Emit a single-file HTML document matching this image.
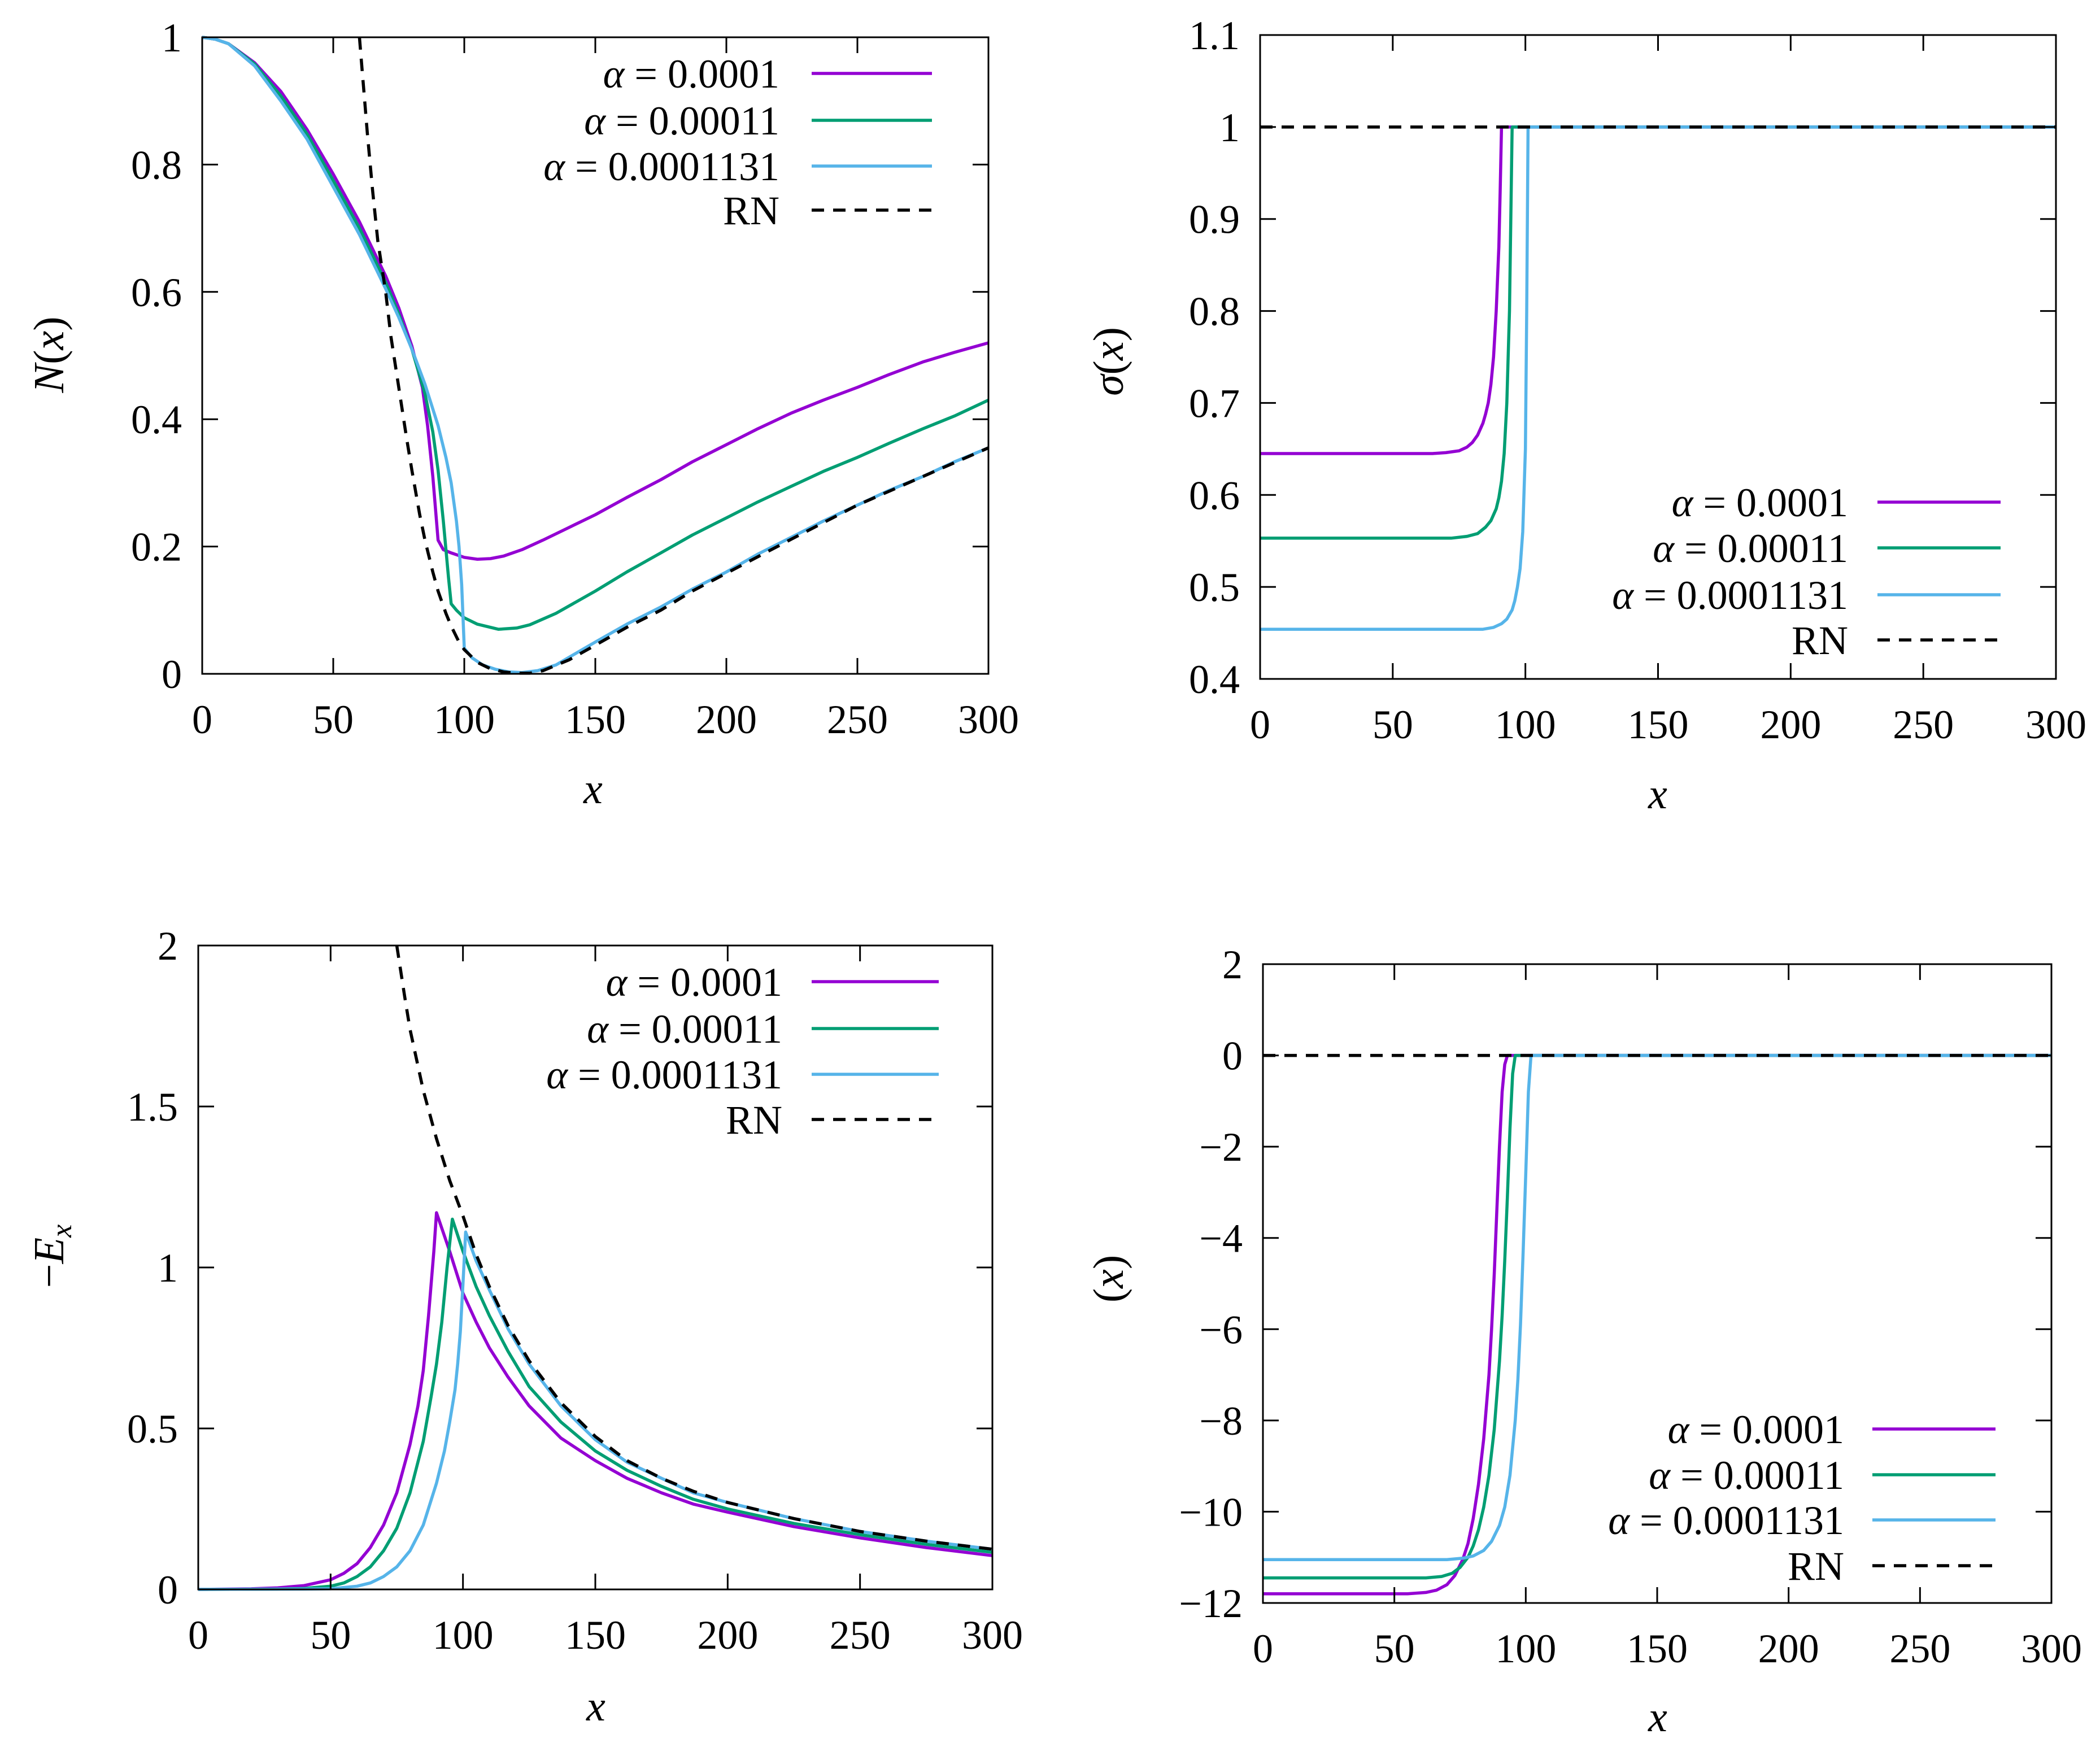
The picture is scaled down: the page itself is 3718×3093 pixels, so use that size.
<!DOCTYPE html>
<html><head><meta charset="utf-8">
<style>
html,body{margin:0;padding:0;background:#fff;}
svg{display:block;}
text{font-family:"Liberation Serif","DejaVu Serif",serif;fill:#000;}
</style></head>
<body>
<svg id="fig" width="3718" height="3093" viewBox="0 0 3718 3093" xmlns="http://www.w3.org/2000/svg"></svg>
<script>
const xTicks = [0,50,100,150,200,250,300];
const legendLabels = ["α = 0.0001","α = 0.00011","α = 0.0001131","RN"];
// Panel 1: N(x)
const nTicks = [0,0.2,0.4,0.6,0.8,1];
const nTickLabels = ["0","0.2","0.4","0.6","0.8","1"];
const nPurpleX = [0,5,10,20,30,40,50,60,70,75,80,84,86,88,90,92,95,100,105,110,115,122,130,140,150,162,175,187,200,212,225,237,250,262,275,287,300];
const nPurpleY = [1,0.997,0.99,0.96,0.915,0.855,0.785,0.71,0.625,0.575,0.515,0.45,0.39,0.31,0.21,0.195,0.19,0.183,0.18,0.181,0.185,0.195,0.21,0.23,0.25,0.277,0.305,0.333,0.36,0.385,0.41,0.43,0.45,0.47,0.49,0.505,0.52];
const nGreenX = [0,5,10,20,30,40,50,60,70,75,80,85,88,90,92,94,95,97,100,105,113,120,125,135,150,162,175,187,200,212,225,237,250,262,275,287,300];
const nGreenY = [1,0.997,0.99,0.958,0.908,0.848,0.775,0.70,0.615,0.565,0.51,0.44,0.38,0.32,0.24,0.15,0.11,0.1,0.088,0.078,0.07,0.072,0.077,0.095,0.13,0.16,0.19,0.218,0.245,0.27,0.295,0.318,0.34,0.362,0.385,0.405,0.43];
const nBlueX = [0,5,10,20,30,40,50,60,70,75,80,85,90,93,95,97,98,99,100,103,107,112,117,122,128,135,150,162,175,187,200,212,225,237,250,262,275,287,300];
const nBlueY = [1,0.997,0.99,0.955,0.9,0.84,0.765,0.69,0.605,0.56,0.51,0.455,0.39,0.34,0.3,0.24,0.2,0.14,0.04,0.025,0.014,0.007,0.003,0.002,0.005,0.014,0.05,0.078,0.105,0.133,0.16,0.188,0.215,0.24,0.265,0.288,0.31,0.333,0.355];
const nRNX = [60,61,62,63,65,67,70,72,75,78,80,83,85,88,90,93,95,98,100,105,110,115,120,125,130,140,150,162,175,187,200,225,250,275,300];
const nRNY = [1.0,0.95,0.9,0.85,0.76,0.68,0.6,0.53,0.45,0.37,0.32,0.25,0.21,0.16,0.13,0.095,0.075,0.05,0.038,0.018,0.008,0.003,0.001,0.001,0.005,0.022,0.045,0.073,0.1,0.13,0.158,0.212,0.265,0.31,0.355];
// Panel 2: sigma(x)
const sTicks = [0.4,0.5,0.6,0.7,0.8,0.9,1,1.1];
const sTickLabels = ["0.4","0.5","0.6","0.7","0.8","0.9","1","1.1"];
const sPurpleX = [0,65,70,75,78,80,82,84,85,86,87,88,89,90,90.5,91,300];
const sPurpleY = [0.645,0.645,0.646,0.648,0.652,0.657,0.665,0.678,0.688,0.7,0.72,0.75,0.8,0.87,0.93,1.0,1.0];
const sGreenX = [0,72,78,82,85,87,89,90,91,92,93,94,95,300];
const sGreenY = [0.553,0.553,0.555,0.558,0.565,0.572,0.585,0.597,0.615,0.645,0.7,0.8,1.0,1.0];
const sBlueX = [0,84,88,91,93,95,96,97,98,99,100,100.5,101,300];
const sBlueY = [0.454,0.454,0.456,0.46,0.465,0.475,0.485,0.5,0.52,0.56,0.65,0.8,1.0,1.0];
const sRNX = [0,300];
const sRNY = [1,1];
// Panel 3: -E_x
const eTicks = [0,0.5,1,1.5,2];
const eTickLabels = ["0","0.5","1","1.5","2"];
const ePurpleX = [0,20,30,40,50,55,60,65,70,75,80,83,85,87,89,90,95,100,105,110,117,125,137,150,162,175,187,200,225,250,275,300];
const ePurpleY = [0,0.002,0.005,0.012,0.03,0.05,0.08,0.13,0.2,0.3,0.45,0.57,0.68,0.85,1.05,1.17,1.05,0.92,0.83,0.75,0.66,0.57,0.47,0.4,0.345,0.3,0.265,0.24,0.195,0.16,0.13,0.105];
const eGreenX = [0,30,40,50,55,60,65,70,75,80,85,88,90,92,94,96,100,105,110,117,125,137,150,162,175,187,200,225,250,275,300];
const eGreenY = [0,0.001,0.003,0.01,0.02,0.04,0.07,0.12,0.19,0.3,0.46,0.6,0.7,0.83,1.0,1.15,1.05,0.94,0.85,0.74,0.63,0.52,0.43,0.37,0.32,0.28,0.25,0.205,0.17,0.14,0.115];
const eBlueX = [0,40,50,60,65,70,75,80,85,90,93,95,97,98,99,100,101,105,110,117,125,137,150,162,175,187,200,225,250,275,300];
const eBlueY = [0,0.001,0.002,0.01,0.02,0.04,0.07,0.12,0.2,0.33,0.43,0.52,0.62,0.7,0.8,0.95,1.11,1.02,0.93,0.81,0.7,0.57,0.465,0.395,0.345,0.3,0.27,0.22,0.18,0.15,0.125];
const eRNX = [75,78,80,85,90,95,100,105,110,117,125,137,150,162,175,187,200,225,250,275,300];
const eRNY = [2.0,1.84,1.74,1.55,1.4,1.27,1.16,1.04,0.94,0.82,0.71,0.58,0.475,0.4,0.345,0.305,0.27,0.22,0.18,0.15,0.125];
// Panel 4: (x)
const pTicks = [-12,-10,-8,-6,-4,-2,0,2];
const pTickLabels = ["−12","−10","−8","−6","−4","−2","0","2"];
const pPurpleX = [0,55,62,66,70,73,76,78,80,82,84,86,87,88,89,90,91,92,93,300];
const pPurpleY = [-11.8,-11.8,-11.77,-11.72,-11.6,-11.4,-11.05,-10.7,-10.15,-9.4,-8.4,-7,-6,-4.8,-3.4,-2,-0.8,-0.2,0,0];
const pGreenX = [0,62,68,72,75,78,80,82,84,86,88,90,91,92,93,94,95,96,300];
const pGreenY = [-11.45,-11.45,-11.42,-11.35,-11.22,-11.0,-10.75,-10.4,-9.9,-9.2,-8.2,-6.7,-5.7,-4.5,-3.1,-1.6,-0.4,0,0];
const pBlueX = [0,70,76,80,84,87,90,92,94,96,97,98,99,100,101,102,300];
const pBlueY = [-11.05,-11.05,-11.02,-10.97,-10.85,-10.65,-10.3,-9.9,-9.2,-8,-7.1,-5.9,-4.3,-2.6,-0.8,0,0];
const pRNX = [0,300];
const pRNY = [0,0];

const NS = "http://www.w3.org/2000/svg";
const svg = document.getElementById('fig');
const COLORS = ["#9400d3","#009e73","#56b4e9","#000"];
function mk(tag, attrs, parent){
  const e = document.createElementNS(NS, tag);
  for (const k in attrs) e.setAttribute(k, attrs[k]);
  (parent||svg).appendChild(e);
  return e;
}
function panel(cfg){
  const g = mk('g', {});
  
  
  const {L,R,T,B,ymin,ymax} = cfg;
  const sx = v => L + (v-0)/(300-0)*(R-L);
  const sy = v => B - (v-ymin)/(ymax-ymin)*(B-T);
  cfg.series.forEach((s,i)=>{
    let d = '';
    s[0].forEach((xv,j)=>{ d += (j?'L':'M') + sx(xv).toFixed(1) + ',' + sy(s[1][j]).toFixed(1); });
    const p = mk('path', {d:d, fill:'none', stroke:COLORS[i], 'stroke-width':5.5, 'stroke-linejoin':'round'}, g);
    if (i===3) p.setAttribute('stroke-dasharray','22,16');
    
    
  });
  const fr = mk('rect', {x:L,y:T,width:R-L,height:B-T,fill:'none',stroke:'#000','stroke-width':3}, g);
  
  
  const tk = 28;
  xTicks.forEach(v=>{
    const x = sx(v);
    mk('line',{x1:x,y1:B,x2:x,y2:B-tk,stroke:'#000','stroke-width':3},g);
    mk('line',{x1:x,y1:T,x2:x,y2:T+tk,stroke:'#000','stroke-width':3},g);
    const t = mk('text',{x:x,y:B+105,'text-anchor':'middle','font-size':72},g);
    t.textContent = v;
    
    
  });
  cfg.yTicks.forEach((v,i)=>{
    const y = sy(v);
    mk('line',{x1:L,y1:y,x2:L+tk,y2:y,stroke:'#000','stroke-width':3},g);
    mk('line',{x1:R,y1:y,x2:R-tk,y2:y,stroke:'#000','stroke-width':3},g);
    const t = mk('text',{x:L-36,y:y+25,'text-anchor':'end','font-size':72},g);
    t.textContent = cfg.yLabels[i];
    
    
  });
  const xt = mk('text',{x:cfg.xl[0],y:cfg.xl[1],'text-anchor':'middle','font-size':76,'font-style':'italic'},g);
  xt.textContent = 'x';
  
  
  const yt = mk('text',{x:0,y:0,'text-anchor':'middle','font-size':76,transform:`translate(${cfg.yl[0]},${cfg.yl[1]}) rotate(-90)`},g);
  yt.innerHTML = cfg.yTitle;
  
  
  cfg.leg.ys.forEach((y,i)=>{
    const t = mk('text',{x:cfg.leg.tx,y:y+25,'text-anchor':'end','font-size':72},g);
    if (i<3){ t.innerHTML = '<tspan font-style="italic">α</tspan> = ' + legendLabels[i].split('= ')[1]; }
    else t.textContent = 'RN';
    
    
    const ln = mk('line',{x1:cfg.leg.l1,y1:y,x2:cfg.leg.l2,y2:y,stroke:COLORS[i],'stroke-width':5.5},g);
    if (i===3){ ln.setAttribute('stroke-dasharray','22,16'); }
    
    
  });
}
panel({name:'panel-n', L:358,R:1750,T:66,B:1193,ymin:0,ymax:1,yTicks:nTicks,yLabels:nTickLabels,
  series:[[nPurpleX,nPurpleY],[nGreenX,nGreenY],[nBlueX,nBlueY],[nRNX,nRNY]],
  xl:[1050,1422], yl:[112,628], yTitle:'<tspan font-style="italic">N</tspan>(<tspan font-style="italic">x</tspan>)',
  leg:{ys:[130,213,294,372], tx:1380, l1:1437, l2:1650}});
panel({name:'panel-sigma', L:2231,R:3640,T:62,B:1202,ymin:0.4,ymax:1.1,yTicks:sTicks,yLabels:sTickLabels,
  series:[[sPurpleX,sPurpleY],[sGreenX,sGreenY],[sBlueX,sBlueY],[sRNX,sRNY]],
  xl:[2935,1431], yl:[1988,640], yTitle:'<tspan font-style="italic">σ</tspan>(<tspan font-style="italic">x</tspan>)',
  leg:{ys:[889,970,1053,1133], tx:3272, l1:3324, l2:3542}});
panel({name:'panel-ex', L:351,R:1757,T:1674,B:2814,ymin:0,ymax:2,yTicks:eTicks,yLabels:eTickLabels,
  series:[[ePurpleX,ePurpleY],[eGreenX,eGreenY],[eBlueX,eBlueY],[eRNX,eRNY]],
  xl:[1055,3046], yl:[112,2224], yTitle:'−<tspan font-style="italic">E</tspan><tspan font-style="italic" font-size="52" dy="14">x</tspan>',
  leg:{ys:[1738,1821,1902,1982], tx:1385, l1:1437, l2:1662}});
panel({name:'panel-phi', L:2236,R:3632,T:1707,B:2838,ymin:-12,ymax:2,yTicks:pTicks,yLabels:pTickLabels,
  series:[[pPurpleX,pPurpleY],[pGreenX,pGreenY],[pBlueX,pBlueY],[pRNX,pRNY]],
  xl:[2935,3065], yl:[1988,2264], yTitle:'(<tspan font-style="italic">x</tspan>)',
  leg:{ys:[2530,2611,2691,2772], tx:3265, l1:3315, l2:3533}});
</script>
</body></html>
